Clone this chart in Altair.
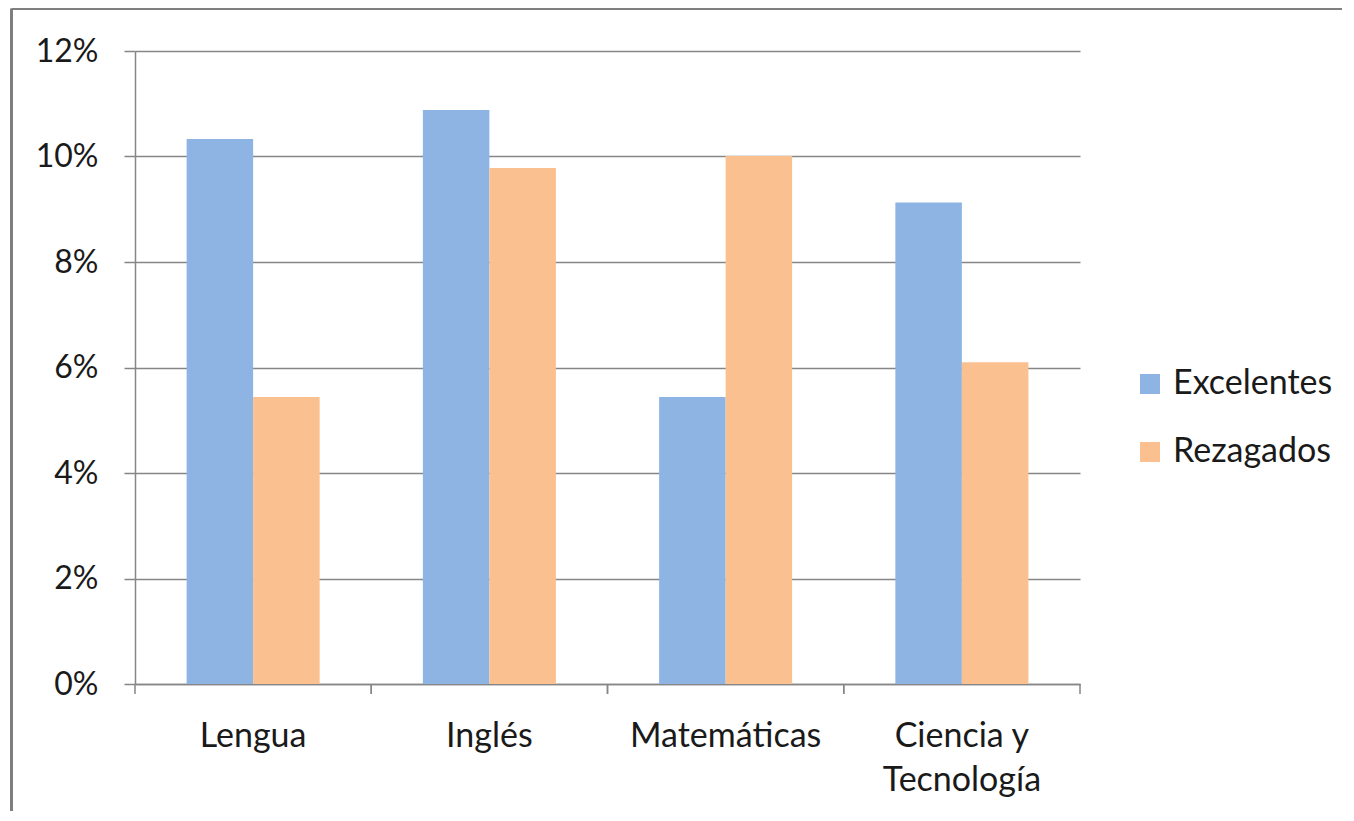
import altair as alt
import pandas as pd

categories = ["Lengua", "Inglés", "Matemáticas", "Ciencia y Tecnología"]
series = ["Excelentes", "Rezagados"]
excelentes = [0.1033, 0.1088, 0.0544, 0.0913]
rezagados = [0.0544, 0.0978, 0.1001, 0.0610]
y_ticks = [0, 0.02, 0.04, 0.06, 0.08, 0.10, 0.12]
colors = ["#8EB4E3", "#FAC090"]

rows = []
for c, e, r in zip(categories, excelentes, rezagados):
    rows.append({"Asignatura": c, "Grupo": series[0], "Valor": e})
    rows.append({"Asignatura": c, "Grupo": series[1], "Valor": r})
df = pd.DataFrame(rows)
cat_df = pd.DataFrame({"Asignatura": categories})
one = pd.DataFrame({"a": [0]})

FONT = "Lato"
GRID = "#868686"
W, H = 945, 633
PAD_R, PAD_B = 262, 127

x_scale = alt.Scale(domain=categories, paddingInner=0, paddingOuter=0)
y_scale = alt.Scale(domain=[0, 0.12], nice=False)

bars = alt.Chart(df).mark_bar().encode(
    x=alt.X("Asignatura:N", scale=x_scale, sort=categories,
            axis=alt.Axis(title=None, ticks=False, labelAngle=0, labelPadding=35,
                          labelBaseline="top", labelLineHeight=44, labelFontSize=34,
                          labelLimit=0,
                          labelExpr="datum.label == 'Ciencia y Tecnología' ? ['Ciencia y', 'Tecnología'] : datum.label")),
    xOffset=alt.XOffset("Grupo:N", scale=alt.Scale(domain=series, paddingInner=0, paddingOuter=0.776)),
    y=alt.Y("Valor:Q", scale=y_scale,
            axis=alt.Axis(title=None, values=y_ticks, format=".0%", tickSize=11,
                          labelPadding=26, grid=True)),
    color=alt.Color("Grupo:N", scale=alt.Scale(domain=series, range=colors),
                    legend=alt.Legend(title=None, orient="none", legendX=998, legendY=316,
                                      symbolType="square", symbolSize=400, symbolStrokeWidth=0,
                                      labelFontSize=34, labelFont=FONT, labelColor="#1a1a1a",
                                      rowPadding=34, labelOffset=6, labelLimit=0)),
)

ticks_left = alt.Chart(cat_df).mark_rule(color=GRID, strokeWidth=1.5).encode(
    x=alt.X("Asignatura:N", scale=x_scale, sort=categories, bandPosition=0),
    y=alt.value(H), y2=alt.value(H + 10),
)
ticks_right = alt.Chart(cat_df).mark_rule(color=GRID, strokeWidth=1.5).encode(
    x=alt.X("Asignatura:N", scale=x_scale, sort=categories, bandPosition=1),
    y=alt.value(H), y2=alt.value(H + 10),
)

frame_top = alt.Chart(one).mark_rule(color="#7f7f7f", strokeWidth=3).encode(
    x=alt.value(-123.5), x2=alt.value(W + PAD_R), y=alt.value(-42.5),
)
frame_left = alt.Chart(one).mark_rule(color="#7f7f7f", strokeWidth=3).encode(
    x=alt.value(-123.5), y=alt.value(-42.5), y2=alt.value(H + PAD_B),
)

chart = alt.layer(frame_top, frame_left, bars, ticks_left, ticks_right).properties(
    width=W, height=H,
    autosize=alt.AutoSizeParams(type="none"),
    padding={"left": 127, "top": 43, "right": PAD_R, "bottom": PAD_B},
).configure_view(stroke=None).configure_axis(
    labelFont=FONT, labelFontSize=32, labelColor="#1a1a1a",
    domainColor=GRID, gridColor=GRID, tickColor=GRID,
    domainWidth=1.5, gridWidth=1.5, tickWidth=1.5,
)

chart.save("out.html", embed_options={"renderer": "svg", "actions": False})
